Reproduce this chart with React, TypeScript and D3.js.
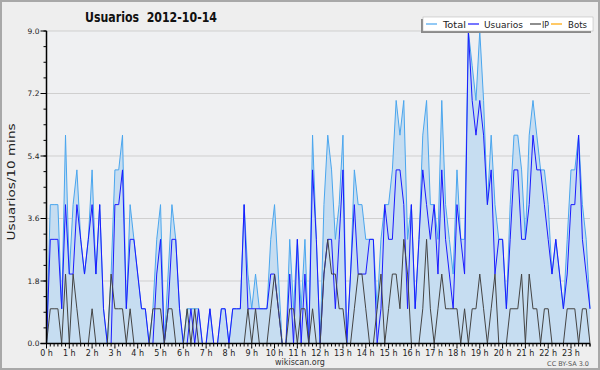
import React from "react";
import * as d3 from "d3";

const W = 600;
const H = 370;

// 144 ten-minute slots, 2012-10-14
const usuarios = [
  0, 3, 3, 3, 1, 4, 2, 2, 4, 3, 2, 3, 4, 2, 4, 1, 0, 0, 4, 4, 5, 1, 3, 3, 2, 1, 1, 0,
  0, 2, 3, 0, 1, 3, 3, 1, 0, 0, 1, 0, 1, 0, 0, 1, 0, 0, 1, 1, 0, 1, 1, 1, 4, 1, 1, 1,
  1, 1, 1, 2, 2, 1, 0, 0, 2, 0, 3, 0, 2, 0, 5, 3, 0, 2, 3, 3, 1, 3, 5, 0, 2, 4, 2, 2,
  2, 3, 3, 0, 1, 4, 3, 3, 5, 5, 4, 1, 4, 1, 3, 5, 4, 3, 4, 2, 5, 3, 2, 1, 4, 3, 2, 9,
  7, 6, 7, 6, 4, 5, 2, 3, 3, 1, 3, 5, 5, 3, 3, 4, 6, 5, 5, 4, 3, 2, 3, 2, 1, 2, 4, 4,
  6, 3, 2, 1,
];
const ip = [
  0, 1, 1, 1, 0, 2, 0, 2, 1, 0, 0, 0, 1, 0, 0, 0, 0, 2, 1, 1, 1, 0, 1, 0, 0, 0, 0, 0,
  1, 1, 1, 0, 1, 1, 0, 0, 0, 1, 0, 1, 0, 0, 0, 0, 0, 0, 0, 0, 0, 0, 0, 0, 0, 1, 0, 1,
  0, 0, 0, 1, 2, 1, 0, 0, 1, 1, 0, 1, 1, 0, 1, 0, 0, 2, 3, 2, 2, 1, 1, 0, 0, 1, 2, 2,
  1, 0, 0, 1, 2, 0, 1, 2, 2, 1, 3, 2, 0, 0, 0, 1, 3, 1, 0, 1, 2, 1, 1, 1, 1, 0, 1, 0,
  1, 1, 2, 1, 0, 1, 2, 0, 0, 0, 1, 1, 1, 2, 0, 2, 1, 1, 0, 1, 1, 0, 0, 0, 0, 1, 1, 1,
  0, 1, 1, 0,
];
const total = [
  0, 4, 4, 4, 1, 6, 2, 4, 5, 3, 2, 3, 5, 2, 4, 1, 0, 2, 5, 5, 6, 1, 4, 3, 2, 1, 1, 0,
  1, 3, 4, 0, 2, 4, 3, 1, 0, 1, 1, 1, 1, 0, 0, 1, 0, 0, 1, 1, 0, 1, 1, 1, 4, 2, 1, 2,
  1, 1, 1, 3, 4, 2, 0, 0, 3, 1, 3, 1, 3, 0, 6, 3, 0, 4, 6, 5, 3, 4, 6, 0, 2, 5, 4, 4,
  3, 3, 3, 1, 3, 4, 4, 5, 7, 6, 7, 3, 4, 1, 3, 6, 7, 4, 4, 3, 7, 4, 3, 2, 5, 3, 3, 9,
  8, 7, 9, 7, 4, 6, 4, 3, 3, 1, 4, 6, 6, 5, 3, 6, 7, 6, 5, 5, 4, 2, 3, 2, 1, 3, 5, 5,
  6, 4, 3, 1,
];
const bots = [
  0, 0, 0, 0, 0, 0, 0, 0, 0, 0, 0, 0, 0, 0, 0, 0, 0, 0, 0, 0, 0, 0, 0, 0, 0, 0, 0, 0,
  0, 0, 0, 0, 0, 0, 0, 0, 0, 0, 0, 0, 0, 0, 0, 0, 0, 0, 0, 0, 0, 0, 0, 0, 0, 0, 0, 0,
  0, 0, 0, 0, 0, 0, 0, 0, 0, 0, 0, 0, 0, 0, 0, 0, 0, 0, 0, 0, 0, 0, 0, 0, 0, 0, 0, 0,
  0, 0, 0, 0, 0, 0, 0, 0, 0, 0, 0, 0, 0, 0, 0, 0, 0, 0, 0, 0, 0, 0, 0, 0, 0, 0, 0, 0,
  0, 0, 0, 0, 0, 0, 0, 0, 0, 0, 0, 0, 0, 0, 0, 0, 0, 0, 0, 0, 0, 0, 0, 0, 0, 0, 0, 0,
  0, 0, 0, 0,
];
const hourLabels = [
  "0 h", "1 h", "2 h", "3 h", "4 h", "5 h", "6 h", "7 h", "8 h", "9 h", "10 h", "11 h",
  "12 h", "13 h", "14 h", "15 h", "16 h", "17 h", "18 h", "19 h", "20 h", "21 h", "22 h", "23 h",
];
const yTicks = [0, 1.8, 3.6, 5.4, 7.2, 9.0];
const legendItems = [
  { name: "Total", color: "#4aa6ee" },
  { name: "Usuarios", color: "#1a1aff" },
  { name: "IP", color: "#444444" },
  { name: "Bots", color: "#ffa500" },
];

const L = 46.5;
const R = 590;
const T = 31;
const B = 343.5;

export default function App() {
  const x = d3.scaleLinear().domain([0, 143]).range([L, R]);
  const y = d3.scaleLinear().domain([0, 9]).range([B, T]);
  const idx = d3.range(total.length);

  const line = (arr: number[]) =>
    d3.line<number>().x((i) => x(i)).y((i) => y(arr[i]))(idx) || "";
  const area =
    d3.area<number>().x((i) => x(i)).y0(y(0)).y1((i) => y(total[i]))(idx) || "";

  const minorY = d3.range(0, 9.001, 0.45);
  const minorX = d3.range(0, 144, 1);

  const font = "DejaVu Sans, Verdana, sans-serif";
  const legendX = [426, 468, 530, 551];
  const legendTextX = [443, 484, 542, 568];
  const legendTextLen = [23, 39, 7, 19];

  return (
    <svg
      width={W}
      height={H}
      style={{ position: "absolute", left: 0, top: 0 }}
      fontFamily={font}
    >
      <rect x={0} y={0} width={W} height={H} fill="#eeeeee" />
      <rect x={1} y={1} width={W - 2} height={H - 2} fill="none" stroke="#a8a8a8" strokeWidth={2} />
      <rect x={L} y={T} width={R - L} height={B - T} fill="#eff0f2" />

      {/* grid */}
      {yTicks.slice(1).map((v) => (
        <line key={v} x1={L} x2={R} y1={y(v)} y2={y(v)} stroke="#cfcfcf" strokeWidth={1} />
      ))}

      {/* series */}
      <path d={area} fill="#c6ddf1" />
      <path d={line(total)} fill="none" stroke="#4aa6ee" strokeWidth={1} />
      <path d={line(usuarios)} fill="none" stroke="#1a1aff" strokeWidth={1} />
      <path d={line(ip)} fill="none" stroke="#444444" strokeWidth={1} />
      <path d={line(bots)} fill="none" stroke="#ffa500" strokeWidth={1} />

      {/* y axis */}
      <line x1={L} x2={L} y1={T} y2={B + 0.5} stroke="#000" strokeWidth={1.5} />
      {minorY.map((v, k) => (
        <line key={"my" + k} x1={L - 3} x2={L} y1={y(v)} y2={y(v)} stroke="#000" strokeWidth={1} />
      ))}
      {yTicks.map((v) => (
        <g key={"yt" + v}>
          <line x1={L - 6} x2={L} y1={y(v)} y2={y(v)} stroke="#000" strokeWidth={1} />
          <text x={L - 7} y={y(v) + 2.5} fontSize={7.5} textAnchor="end" fill="#222">
            {v.toFixed(1)}
          </text>
        </g>
      ))}

      {/* x axis */}
      <line x1={L - 6} x2={R} y1={B} y2={B} stroke="#000" strokeWidth={1.5} />
      {minorX.map((i) => (
        <line
          key={"mx" + i}
          x1={x(i)}
          x2={x(i)}
          y1={B}
          y2={B + (i % 6 === 0 ? 5 : 3)}
          stroke="#000"
          strokeWidth={1}
        />
      ))}
      <line x1={R} x2={R} y1={B} y2={B + 3} stroke="#000" strokeWidth={1} />
      {hourLabels.map((h, k) => (
        <text key={h} x={x(k * 6)} y={B + 12} fontSize={8} textAnchor="middle" fill="#222">
          {h}
        </text>
      ))}

      {/* titles */}
      <text x={151} y={22} fontSize={13.5} fontWeight="bold" textAnchor="middle" fill="#111"
        textLength={132} lengthAdjust="spacingAndGlyphs" style={{ whiteSpace: "pre" }}>
        {"Usuarios\u00a0\u00a02012-10-14"}
      </text>
      <text
        transform={`translate(15, ${182}) rotate(-90)`}
        fontSize={10.5}
        textAnchor="middle"
        fill="#222"
        textLength={117}
        lengthAdjust="spacingAndGlyphs"
      >
        Usuarios/10 mins
      </text>
      <text x={300} y={365} fontSize={8} textAnchor="middle" fill="#333">
        wikiscan.org
      </text>
      <text x={589} y={366} fontSize={6.5} textAnchor="end" fill="#555">
        CC BY-SA 3.0
      </text>

      {/* legend */}
      <rect x={421} y={19} width={170} height={14} fill="#8a8a8a" />
      <rect x={423} y={17} width={170} height={14} fill="#ffffff" stroke="#b0b0b0" strokeWidth={0.5} />
      {legendItems.map((it, k) => (
        <g key={it.name}>
          <line x1={legendX[k]} x2={legendX[k] + 11} y1={24} y2={24} stroke={it.color} strokeWidth={1.2} />
          <text x={legendTextX[k]} y={28} fontSize={9.5} fill="#222"
            textLength={legendTextLen[k]} lengthAdjust="spacingAndGlyphs">
            {it.name}
          </text>
        </g>
      ))}
    </svg>
  );
}
